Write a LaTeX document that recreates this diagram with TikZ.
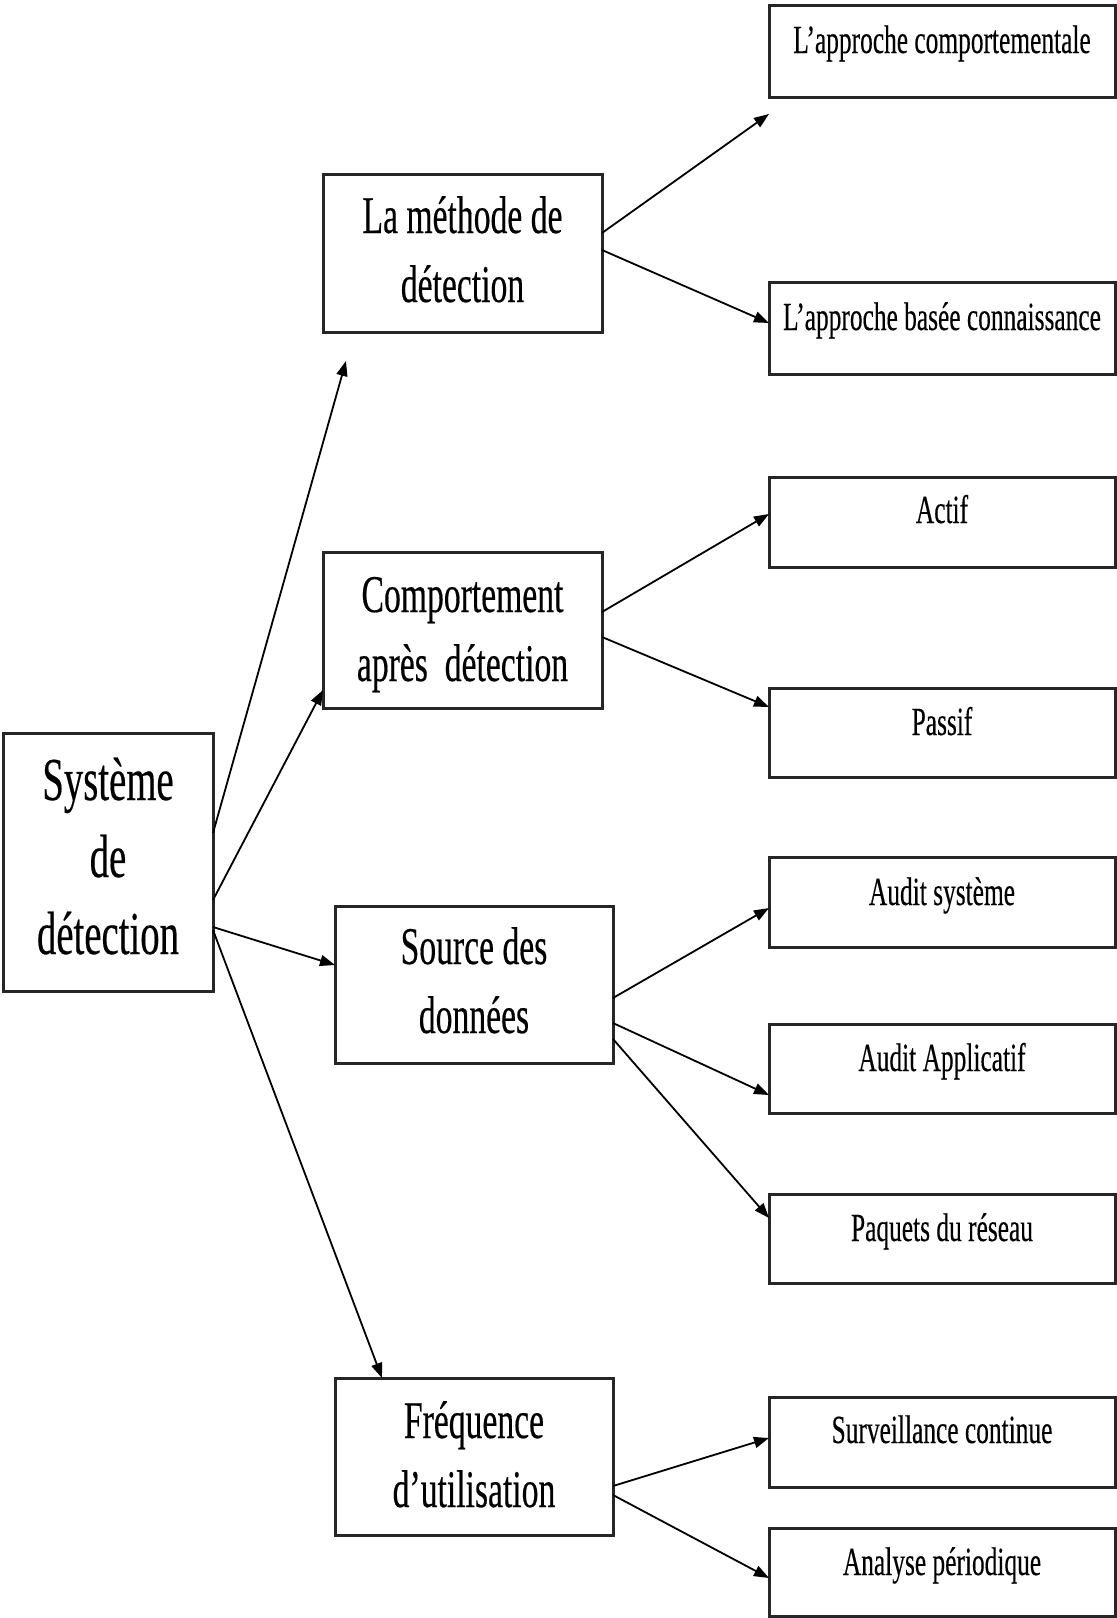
\documentclass[tikz,border=0pt]{standalone}
\usepackage{fontspec}
\setmainfont{Liberation Serif}[FakeStretch=0.635,FakeBold=0.3]
\usetikzlibrary{arrows.meta}
\newcommand{\boxtext}[6]{\parbox[t][#2][t]{#1}{\centering\fontsize{#3}{#4}\selectfont\vspace*{\dimexpr #5-0.7\baselineskip\relax}\strut #6}}
\begin{document}
\begin{tikzpicture}[x=1pt,y=-1pt,
  box/.style={draw=black!85,line width=3pt,inner sep=0pt,outer sep=0pt,anchor=north west},
  arr/.style={draw=black,line width=1.8pt,-{Triangle[length=15pt,width=11pt]}}]
\useasboundingbox (0,0) rectangle (1117,1618);
% root
\node[box] (sys) at (3,733) {\boxtext{210pt}{258pt}{61pt}{77pt}{67pt}{Système\\de\\détection}};
% middle column
\node[box] (m1) at (323,174) {\boxtext{279pt}{158pt}{53pt}{69pt}{59pt}{La méthode de\\détection}};
\node[box] (m2) at (323,552) {\boxtext{279pt}{156pt}{53pt}{69pt}{60pt}{Comportement\\après~ détection}};
\node[box] (m3) at (335,906) {\boxtext{278pt}{157pt}{53pt}{69pt}{58pt}{Source des\\données}};
\node[box] (m4) at (335,1378) {\boxtext{278pt}{157pt}{53pt}{69pt}{60pt}{Fréquence\\d’utilisation}};
% right column
\node[box] (r1) at (769,5) {\boxtext{346pt}{92pt}{40pt}{48pt}{48pt}{L’approche comportementale}};
\node[box] (r2) at (769,282) {\boxtext{346pt}{92pt}{40pt}{48pt}{48pt}{L’approche basée connaissance}};
\node[box] (r3) at (769,477) {\boxtext{346pt}{90pt}{40pt}{48pt}{46pt}{Actif}};
\node[box] (r4) at (769,688) {\boxtext{346pt}{89pt}{40pt}{48pt}{47pt}{Passif}};
\node[box] (r5) at (769,857) {\boxtext{346pt}{90pt}{40pt}{48pt}{48pt}{Audit système}};
\node[box] (r6) at (769,1024) {\boxtext{346pt}{89pt}{40pt}{48pt}{47pt}{Audit Applicatif}};
\node[box] (r7) at (769,1194) {\boxtext{346pt}{89pt}{40pt}{48pt}{47pt}{Paquets du réseau}};
\node[box] (r8) at (769,1397) {\boxtext{346pt}{90pt}{40pt}{48pt}{46pt}{Surveillance continue}};
\node[box] (r9) at (769,1528) {\boxtext{346pt}{88pt}{40pt}{48pt}{47pt}{Analyse périodique}};
% free arrow ends
\coordinate (m1in) at (346,361);
\coordinate (r1in) at (769,114);
% connectors from root
\draw[arr] ([yshift=-100pt]sys.north east) -- (m1in);
\draw[arr] ([yshift=-167pt]sys.north east) -- ([yshift=-138pt]m2.north west);
\draw[arr] ([yshift=-194pt]sys.north east) -- ([yshift=-59pt]m3.north west);
\draw[arr] ([yshift=-197pt]sys.north east) -- ([xshift=47pt]m4.north west);
% connectors from middle column
\draw[arr] ([yshift=-59pt]m1.north east) -- (r1in);
\draw[arr] ([yshift=-76pt]m1.north east) -- ([yshift=-41pt]r2.north west);
\draw[arr] ([yshift=-60pt]m2.north east) -- ([yshift=-37pt]r3.north west);
\draw[arr] ([yshift=-85pt]m2.north east) -- ([yshift=-19pt]r4.north west);
\draw[arr] ([yshift=-92pt]m3.north east) -- ([yshift=-51pt]r5.north west);
\draw[arr] ([yshift=-117pt]m3.north east) -- ([yshift=-71pt]r6.north west);
\draw[arr] ([yshift=-133pt]m3.north east) -- ([yshift=-24pt]r7.north west);
\draw[arr] ([yshift=-108pt]m4.north east) -- ([yshift=-41pt]r8.north west);
\draw[arr] ([yshift=-117pt]m4.north east) -- ([yshift=-50pt]r9.north west);
\end{tikzpicture}
\end{document}
